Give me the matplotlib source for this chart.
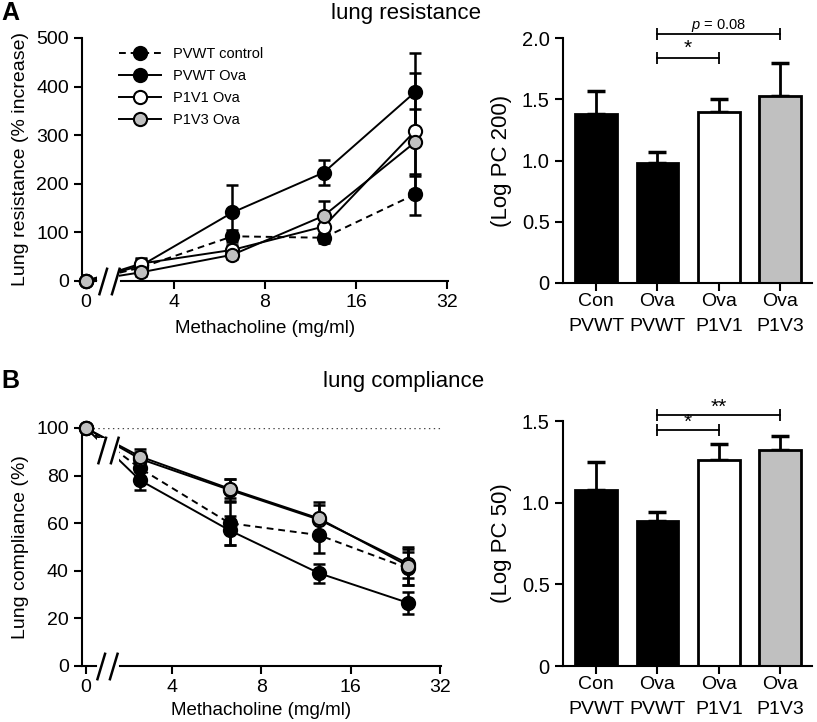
import matplotlib
matplotlib.use('Agg')
import matplotlib.pyplot as plt
from matplotlib.path import Path
from matplotlib.patches import Rectangle
import numpy as np

plt.rcParams['font.family'] = ['Liberation Sans', 'DejaVu Sans']
plt.rcParams['mathtext.fontset'] = 'custom'
plt.rcParams['mathtext.it'] = 'Liberation Sans:italic'
plt.rcParams['mathtext.rm'] = 'Liberation Sans'

# methacholine doses (mg/ml), 0 gets drawn left of the axis break
doses = [0, 3.125, 6.25, 12.5, 25]
ZERO_POS = 2.05
dose_ticks = [ZERO_POS, 4, 8, 16, 32]
dose_ticklabels = ['0', '4', '8', '16', '32']

series_names = ['PVWT control', 'PVWT Ova', 'P1V1 Ova', 'P1V3 Ova']
series_fill = ['black', 'black', 'white', '#c0c0c0']
series_dash = [True, False, False, False]

# lung resistance (% increase)
res_vals = [
    [0, 28, 92, 89, 178],
    [0, 32, 141, 223, 388],
    [0, 36, 64, 112, 308],
    [0, 18, 54, 134, 285],
]
res_errs = [
    [0, 10, 12, 10, 43],
    [0, 14, 57, 26, 81],
    [0, 12, 10, 15, 120],
    [0, 8, 8, 30, 68],
]

# lung compliance (%)
comp_vals = [
    [100, 83, 60, 55, 41],
    [100, 78, 57, 39, 26.5],
    [100, 87, 74, 61.5, 43],
    [100, 88, 74.5, 62, 42],
]
comp_errs = [
    [0, 4, 9, 7.5, 7],
    [0, 4, 6, 4, 4.5],
    [0, 3, 4.5, 6, 6],
    [0, 3, 4, 7, 8],
]

# bar charts
groups = ['Con\nPVWT', 'Ova\nPVWT', 'Ova\nP1V1', 'Ova\nP1V3']
bar_colors = ['black', 'black', 'white', '#c0c0c0']
pc200 = [1.38, 0.98, 1.40, 1.53]
pc200_err = [0.19, 0.09, 0.10, 0.27]
pc50 = [1.08, 0.89, 1.26, 1.32]
pc50_err = [0.17, 0.05, 0.10, 0.09]
pc200_sig = [(1, 2, 1.84, '*', 15), (1, 3, 2.035, '$p$ = 0.08', 10.5)]
pc50_sig = [(1, 2, 1.445, '*', 15), (1, 3, 1.537, '**', 15)]

slash = Path([(-0.75, -1), (-0.15, 1), (0.15, -1), (0.75, 1)],
             [Path.MOVETO, Path.LINETO, Path.MOVETO, Path.LINETO])


def style_axes(ax, size):
    for s in ['top', 'right']:
        ax.spines[s].set_visible(False)
    for s in ['left', 'bottom']:
        ax.spines[s].set_linewidth(1.5)
    ax.tick_params(direction='out', length=6, width=1.5, labelsize=size)


def axis_break(ax, xf, yf):
    ax.plot([xf], [yf], marker=slash, ms=20, mew=1.8, color='black',
            transform=ax.transAxes, clip_on=False, zorder=6)


def dose_panel(ax, vals, errs, band_top, breaks):
    xs = [ZERO_POS if d == 0 else d for d in doses]
    for name, v, e, fc, dash in zip(series_names, vals, errs, series_fill, series_dash):
        ax.errorbar(xs[1:], v[1:], yerr=e[1:], fmt='none', ecolor='black',
                    elinewidth=1.8, capsize=4.5, capthick=1.8, zorder=2, clip_on=False)
        line, = ax.plot(xs, v, color='black', lw=1.4, marker='o', ms=9.5, mfc=fc,
                        mec='black', mew=1.5, label=name, zorder=3, clip_on=False)
        if dash:
            line.set_dashes((3.5, 2.5))
    ax.set_xscale('log', base=2)
    ax.set_xlim(1.99, 32.2)
    ax.set_xticks(dose_ticks)
    ax.set_xticklabels(dose_ticklabels)
    ax.minorticks_off()
    style_axes(ax, 14)
    ax.spines['bottom'].set_visible(False)
    # broken x axis
    ax.plot([0, 0.038], [0, 0], color='black', lw=1.5, transform=ax.transAxes, clip_on=False)
    ax.plot([0.107, 1], [0, 0], color='black', lw=1.5, transform=ax.transAxes, clip_on=False)
    ax.add_patch(Rectangle((0.042, 0.005), 0.06, band_top, transform=ax.transAxes,
                           facecolor='white', edgecolor='none', zorder=4))
    for xf, yf in breaks:
        axis_break(ax, xf, yf)


def bar_panel(ax, vals, errs, ylim, yticks, yticklabels, ylabel, sig, h):
    x = np.arange(len(groups))
    ax.errorbar(x, vals, yerr=[np.zeros(len(vals)), errs], fmt='none', ecolor='black',
                elinewidth=2, capsize=6.5, capthick=2.5, zorder=1)
    ax.bar(x, vals, width=0.68, color=bar_colors, edgecolor='black', linewidth=2, zorder=2)
    ax.set_xlim(-0.54, 3.52)
    ax.set_ylim(*ylim)
    ax.set_yticks(yticks)
    ax.set_yticklabels(yticklabels)
    ax.set_xticks(x)
    ax.set_xticklabels(groups, linespacing=1.6)
    style_axes(ax, 14.5)
    ax.tick_params(axis='x', pad=1, labelsize=14)
    ax.set_ylabel(ylabel, fontsize=16, labelpad=7)
    for a, b, y, txt, fs in sig:
        ax.plot([a, b], [y, y], color='black', lw=1.3, clip_on=False)
        ax.plot([a, b], [y, y], ls='none', marker='|', ms=8, mew=1.3, color='black', clip_on=False)
        ax.text((a + b) / 2, y + h, txt, ha='center', va='bottom', fontsize=fs)


fig = plt.figure(figsize=(8.17, 7.22), dpi=100)

axA = fig.add_axes([82 / 817, (722 - 281) / 722, (448 - 82) / 817, (281 - 38) / 722])
dose_panel(axA, res_vals, res_errs, 1.0, [(0.074, 0)])
axA.set_ylim(0, 500)
axA.set_yticks(range(0, 501, 100))
axA.set_ylabel('Lung resistance (% increase)', fontsize=14, labelpad=5)
axA.set_xlabel('Methacholine (mg/ml)', fontsize=13.5, labelpad=6)
axA.legend(loc='upper left', bbox_to_anchor=(0.1, 0.962), frameon=False, fontsize=10.5,
           handlelength=2.9, handletextpad=0.8, labelspacing=0.55, borderpad=0,
           borderaxespad=0, numpoints=1)

axB = fig.add_axes([82 / 817, (722 - 666) / 722, (441 - 82) / 817, (666 - 428) / 722])
dose_panel(axB, comp_vals, comp_errs, 0.955, [(0.07, 0), (0.072, 0.908)])
axB.axhline(100, xmin=0.03, xmax=1, ls=(0, (1, 2.5)), lw=1, color='#444444', zorder=1)
axB.set_ylim(0, 100)
axB.set_yticks(range(0, 101, 20))
axB.set_ylabel('Lung compliance (%)', fontsize=14, labelpad=5)
axB.set_xlabel('Methacholine (mg/ml)', fontsize=13.5, labelpad=4)

axAb = fig.add_axes([563 / 817, (722 - 283) / 722, (812 - 563) / 817, (283 - 38) / 722])
bar_panel(axAb, pc200, pc200_err, (0, 2.0), [0, 0.5, 1.0, 1.5, 2.0],
          ['0', '0.5', '1.0', '1.5', '2.0'], '(Log PC 200)', pc200_sig, 0.0)

axBb = fig.add_axes([563 / 817, (722 - 666) / 722, (812 - 563) / 817, (666 - 421) / 722])
bar_panel(axBb, pc50, pc50_err, (0, 1.5), [0, 0.5, 1.0, 1.5],
          ['0', '0.5', '1.0', '1.5'], '(Log PC 50)', pc50_sig, -0.01)

fig.text(0.002, 0.982, 'A', fontsize=18, fontweight='bold', va='center')
fig.text(0.002, 0.472, 'B', fontsize=18, fontweight='bold', va='center')
fig.text(0.497, 0.981, 'lung resistance', fontsize=16, ha='center', va='center')
fig.text(0.494, 0.471, 'lung compliance', fontsize=16, ha='center', va='center')

fig.savefig('out.png', dpi=100)
